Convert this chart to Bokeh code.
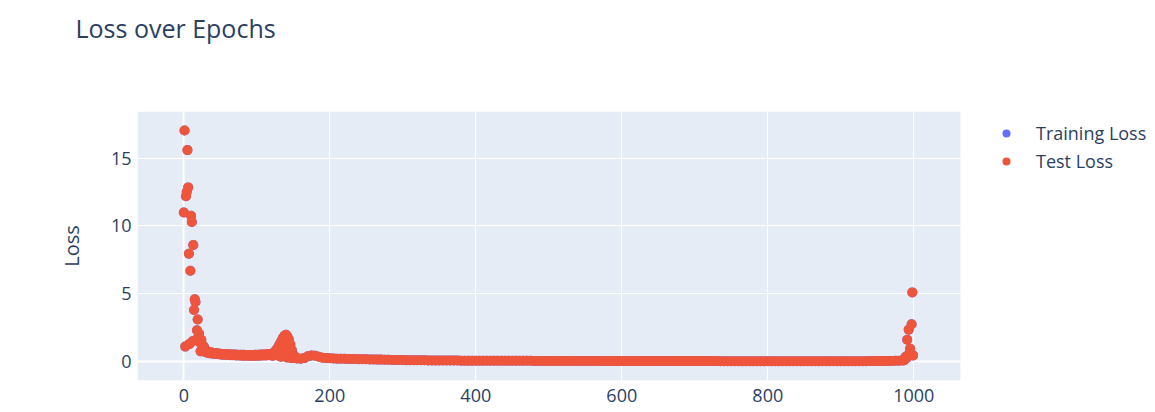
from bokeh.plotting import figure
from bokeh.models import FixedTicker, Legend, LegendItem, Grid, BoxAnnotation, Title
from bokeh.embed import file_html
from bokeh.resources import INLINE

# ---------------- data ----------------
epochs_early = list(range(0, 30))
loss_early = [11.0, 17.05, 1.1, 12.2, 12.5, 15.6, 12.85, 7.95, 1.3, 6.7,
              10.75, 10.3, 1.5, 8.6, 3.8, 4.6, 4.4, 1.6, 2.3, 3.1,
              1.8, 2.05, 1.4, 0.75, 1.6, 0.85, 1.2, 0.9, 1.05, 0.7]

epochs_plateau = list(range(30, 120, 2))
loss_plateau = [0.8, 0.65, 0.72, 0.6, 0.66, 0.58, 0.63, 0.55, 0.6, 0.53,
                0.58, 0.5, 0.56, 0.5, 0.55, 0.48, 0.54, 0.47, 0.52, 0.46,
                0.52, 0.45, 0.5, 0.44, 0.5, 0.43, 0.49, 0.42, 0.48, 0.42,
                0.48, 0.41, 0.48, 0.42, 0.49, 0.42, 0.5, 0.43, 0.51, 0.44,
                0.52, 0.45, 0.54, 0.47, 0.55]

epochs_spike = list(range(120, 156))
loss_spike = [0.55, 0.42, 0.6, 0.45, 0.68, 0.5, 0.8, 0.55, 0.95, 0.45,
              1.15, 0.7, 1.35, 0.35, 1.55, 0.9, 1.75, 0.5, 1.9, 1.25,
              1.97, 0.3, 1.85, 1.2, 1.6, 0.6, 1.25, 0.25, 0.85, 0.3,
              0.5, 0.25, 0.35, 0.25, 0.3, 0.22]

epochs_tail = list(range(160, 985, 5))
loss_tail = [0.2, 0.25, 0.38, 0.45, 0.42, 0.35, 0.28, 0.25, 0.24, 0.22,
             0.21, 0.2, 0.2, 0.19, 0.18, 0.18, 0.17, 0.16, 0.16, 0.15,
             0.15, 0.14, 0.14, 0.13, 0.13, 0.12, 0.12, 0.11, 0.11, 0.1,
             0.1, 0.1, 0.09, 0.09, 0.09, 0.08, 0.08, 0.08, 0.08, 0.07,
             0.07, 0.07, 0.07, 0.07, 0.06, 0.06, 0.06, 0.06, 0.06, 0.06,
             0.05, 0.05, 0.05, 0.05, 0.05, 0.05, 0.05, 0.05, 0.05, 0.05,
             0.05, 0.05, 0.05, 0.05, 0.04, 0.04, 0.04, 0.04, 0.04, 0.04,
             0.04, 0.04, 0.04, 0.04, 0.04, 0.04, 0.04, 0.04, 0.04, 0.04,
             0.04, 0.04, 0.04, 0.03, 0.03, 0.03, 0.03, 0.03, 0.03, 0.03,
             0.03, 0.03, 0.03, 0.03, 0.03, 0.03, 0.03, 0.03, 0.03, 0.03,
             0.03, 0.03, 0.03, 0.03, 0.03, 0.03, 0.03, 0.03, 0.03, 0.03,
             0.03, 0.03, 0.03, 0.03, 0.03, 0.02, 0.02, 0.02, 0.02, 0.02,
             0.02, 0.02, 0.02, 0.02, 0.02, 0.02, 0.02, 0.02, 0.02, 0.02,
             0.02, 0.02, 0.02, 0.02, 0.02, 0.02, 0.02, 0.02, 0.02, 0.02,
             0.02, 0.02, 0.02, 0.02, 0.02, 0.02, 0.02, 0.02, 0.02, 0.02,
             0.02, 0.02, 0.02, 0.02, 0.02, 0.02, 0.03, 0.03, 0.03, 0.03,
             0.03, 0.04, 0.04, 0.05, 0.06]

epochs_end = list(range(985, 1000))
loss_end = [0.08, 0.12, 0.1, 0.2, 0.35, 0.25, 1.6, 0.4, 2.35, 0.6,
            0.95, 0.5, 2.75, 5.1, 0.45]

epochs = epochs_early + epochs_plateau + epochs_spike + epochs_tail + epochs_end
test_loss = loss_early + loss_plateau + loss_spike + loss_tail + loss_end
# the training-loss trace is completely hidden beneath the test-loss markers
train_loss = list(test_loss)

x_ticks = [0, 200, 400, 600, 800, 1000]
y_ticks = [0, 5, 10, 15]
series_names = ["Training Loss", "Test Loss"]
series_colors = ["#636efa", "#EF553B"]

# ---------------- layout ----------------
FONT = "Open Sans"
TXT = "#2a3f5f"
PLOT_BG = "#E5ECF6"

# plotting-area extent (data units); the frame is wider so that the legend
# sits to the right of the shaded plotting area
X_AREA = (-63.42, 1063.97)
Y_AREA = (-1.402, 18.45)

p = figure(width=1155, height=408, output_backend="svg", toolbar_location=None, tools="",
           x_range=(-63.42, 1331.1), y_range=Y_AREA,
           min_border_left=137, min_border_right=0, min_border_top=111, min_border_bottom=28,
           background_fill_color="white", border_fill_color="white",
           outline_line_color=None)

p.title.text = "Loss over Epochs"
p.title.text_font = FONT
p.title.text_font_size = "25px"
p.title.text_font_style = "normal"
p.title.text_color = TXT
p.title.align = "left"
p.title.offset = -62
p.title.standoff = 14

# blank spacer between the title and the plotting area
p.add_layout(Title(text=" ", text_font_size="1px", standoff=57), "above")

p.add_layout(BoxAnnotation(left=X_AREA[0], right=X_AREA[1], bottom=Y_AREA[0], top=Y_AREA[1],
                           fill_color=PLOT_BG, fill_alpha=1.0, line_color=None, level="image"))

for ax in (p.xaxis, p.yaxis):
    ax.axis_line_color = None
    ax.major_tick_line_color = None
    ax.minor_tick_line_color = None
    ax.major_label_text_font = FONT
    ax.major_label_text_font_size = "18px"
    ax.major_label_text_color = TXT
p.xaxis.major_label_standoff = 2
p.yaxis.major_label_standoff = 0
p.xaxis.bounds = X_AREA

p.xaxis.ticker = FixedTicker(ticks=x_ticks)
p.yaxis.ticker = FixedTicker(ticks=y_ticks)
p.yaxis.axis_label = "Loss"
p.yaxis.axis_label_text_font = FONT
p.yaxis.axis_label_text_font_size = "20px"
p.yaxis.axis_label_text_font_style = "normal"
p.yaxis.axis_label_text_color = TXT
p.yaxis.axis_label_standoff = 23

p.xgrid.grid_line_color = "white"
p.xgrid.grid_line_width = 1
p.xgrid.minor_grid_line_color = None
p.ygrid.grid_line_color = "white"
p.ygrid.grid_line_width = 1
p.ygrid.minor_grid_line_color = None
p.ygrid.cross_bounds = X_AREA

# zero lines (thicker white lines, as in the reference)
p.add_layout(Grid(dimension=0, ticker=FixedTicker(ticks=[0]), grid_line_color="white",
                  grid_line_width=2))
p.add_layout(Grid(dimension=1, ticker=FixedTicker(ticks=[0]), grid_line_color="white",
                  grid_line_width=2, cross_bounds=X_AREA))

r_train = p.scatter(epochs, train_loss, size=10, fill_color=series_colors[0], line_color=None)
r_test = p.scatter(epochs, test_loss, size=10, fill_color=series_colors[1], line_color=None)

legend = Legend(items=[LegendItem(label=series_names[0], renderers=[r_train]),
                       LegendItem(label=series_names[1], renderers=[r_test])],
                location=(859, 207),
                label_text_font=FONT, label_text_font_size="18px", label_text_color=TXT,
                glyph_width=20, glyph_height=20, label_height=20, label_standoff=20,
                spacing=4, padding=0, margin=0,
                background_fill_alpha=0, border_line_color=None)
p.add_layout(legend)

open("out.html", "w").write(file_html(p, INLINE))
